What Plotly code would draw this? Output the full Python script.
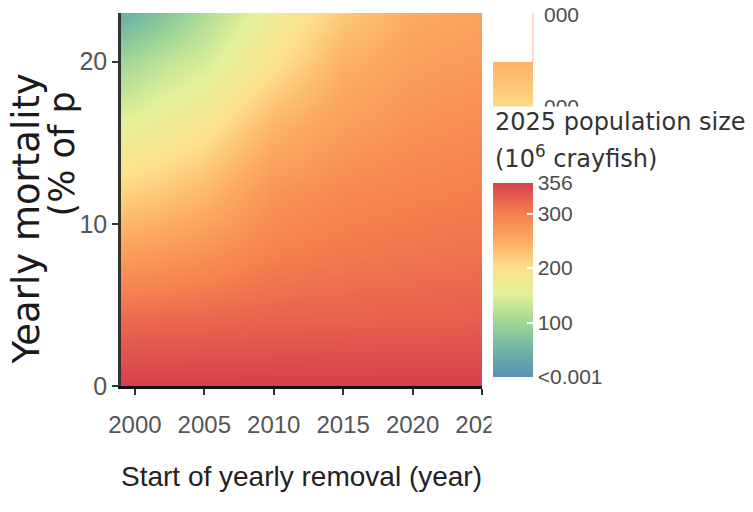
import plotly.graph_objects as go

# Start year of yearly removal (columns) and yearly mortality in % (rows)
years = [1999, 2002, 2005, 2010, 2015, 2020, 2025]
mortality = [0, 4, 8, 12, 16, 20, 23]

# Crayfish population in 2025 (millions) for each combination
population_2025 = [
    [356, 356, 356, 356, 356, 356, 356],
    [321, 322, 323, 326, 327, 328, 330],
    [268, 275, 283, 300, 306, 310, 313],
    [210, 222, 237, 277, 290, 296, 300],
    [158, 172, 190, 243, 267, 280, 287],
    [100, 125, 142, 195, 245, 265, 272],
    [40, 72, 112, 170, 222, 253, 262],
]

x_ticks = [2000, 2005, 2010, 2015, 2020, 2025]
y_ticks = [0, 10, 20]
bar_ticks = [0, 100, 200, 300, 356]
bar_labels = ["<0.001", "100", "200", "300", "356"]

spectral = [
    [0.00, "#5a8fb6"],
    [0.14, "#70b4a3"],
    [0.28, "#9fd596"],
    [0.43, "#e3f199"],
    [0.56, "#fde08b"],
    [0.70, "#fcad63"],
    [0.84, "#f6814f"],
    [1.00, "#d6404e"],
]

W, H = 753, 512
L, R, T, B = 121, 271.4, 13, 126
pw = W - L - R
ph = H - T - B


def px_x(p):
    return (p - L) / pw


def px_y(p):
    return (H - B - p) / ph


SANS = "Liberation Sans, Arial, sans-serif"
WIDE = "DejaVu Sans, Verdana, sans-serif"

fig = go.Figure()
fig.add_trace(go.Heatmap(
    x=years, y=mortality, z=population_2025,
    zsmooth="best", coloraxis="coloraxis", hoverinfo="skip",
))
# partial legend strip shown above the main colour bar
fig.add_trace(go.Scatter(
    x=[None], y=[None], mode="markers",
    marker=dict(color=[0], coloraxis="coloraxis2"),
    showlegend=False, hoverinfo="skip",
))

fig.update_layout(
    width=W, height=H,
    margin=dict(l=L, r=R, t=T, b=B, pad=0),
    paper_bgcolor="white", plot_bgcolor="white",
    showlegend=False,
    coloraxis=dict(
        colorscale=spectral, cmin=0, cmax=356,
        colorbar=dict(
            x=px_x(493), xanchor="left", xpad=0,
            y=px_y(280), yanchor="middle", ypad=0,
            thickness=40, thicknessmode="pixels",
            len=194, lenmode="pixels",
            outlinewidth=0,
            tickmode="array", tickvals=bar_ticks, ticktext=bar_labels,
            ticks="inside", ticklen=6, tickwidth=1.5, tickcolor="white",
            tickfont=dict(family=SANS, size=21, color="#4d4d4d"),
        ),
    ),
    coloraxis2=dict(
        colorscale=[[0, "#fcdb88"], [1, "#fdb268"]], cmin=0, cmax=1,
        colorbar=dict(
            x=px_x(493), xanchor="left", xpad=0,
            y=px_y(85), yanchor="middle", ypad=0,
            thickness=40, thicknessmode="pixels",
            len=46, lenmode="pixels",
            outlinewidth=0, ticks="", showticklabels=False,
        ),
    ),
)

fig.update_xaxes(
    range=[1999, 2025], tickmode="array", tickvals=x_ticks,
    showgrid=False, zeroline=False,
    showline=True, linecolor="#111111", linewidth=3,
    ticks="outside", ticklen=6, tickwidth=1.5, tickcolor="#333333",
    tickfont=dict(family=SANS, size=24, color="#555555"),
    ticklabelstandoff=9,
    title=dict(text="Start of yearly removal (year)",
               font=dict(family=SANS, size=28, color="#222222"),
               standoff=30),
)
fig.update_yaxes(
    range=[0, 23], tickmode="array", tickvals=y_ticks,
    showgrid=False, zeroline=False,
    showline=True, linecolor="#333333", linewidth=2.5,
    ticks="outside", ticklen=6, tickwidth=1.5, tickcolor="#333333",
    tickfont=dict(family=SANS, size=25, color="#555555"),
)

# white panel edge at the legend column
fig.add_shape(type="rect", xref="paper", yref="paper",
              x0=px_x(491), x1=px_x(760), y0=px_y(520), y1=px_y(-5),
              fillcolor="white", line=dict(width=0), layer="above")
fig.add_shape(type="line", xref="paper", yref="paper",
              x0=px_x(532.5), x1=px_x(532.5), y0=px_y(62), y1=px_y(13),
              line=dict(color="#fbb59c", width=1), layer="above")

annotations = [
    dict(text="Yearly mortality", textangle=-90,
         x=px_x(27), y=px_y(366), xanchor="center", yanchor="bottom",
         font=dict(family=WIDE, size=37, color="#1a1a1a")),
    dict(text="(% of p", textangle=-90,
         x=px_x(63), y=px_y(218), xanchor="center", yanchor="bottom",
         font=dict(family=WIDE, size=35, color="#1a1a1a")),
    dict(text="000", x=px_x(542), y=px_y(14), xanchor="left", yanchor="middle",
         font=dict(family=SANS, size=21, color="#4d4d4d")),
    dict(text="000", x=px_x(542), y=px_y(106), xanchor="left", yanchor="middle",
         font=dict(family=SANS, size=21, color="#4d4d4d")),
    dict(text="2025 population size", x=px_x(493), y=px_y(122),
         xanchor="left", yanchor="middle", bgcolor="white",
         font=dict(family=WIDE, size=24, color="#333333")),
    dict(text="(10<sup>6</sup> crayfish)", x=px_x(493), y=px_y(157),
         xanchor="left", yanchor="middle",
         font=dict(family=WIDE, size=24, color="#333333")),
]
for a in annotations:
    fig.add_annotation(xref="paper", yref="paper", showarrow=False, **a)

fig.write_html("out.html")
